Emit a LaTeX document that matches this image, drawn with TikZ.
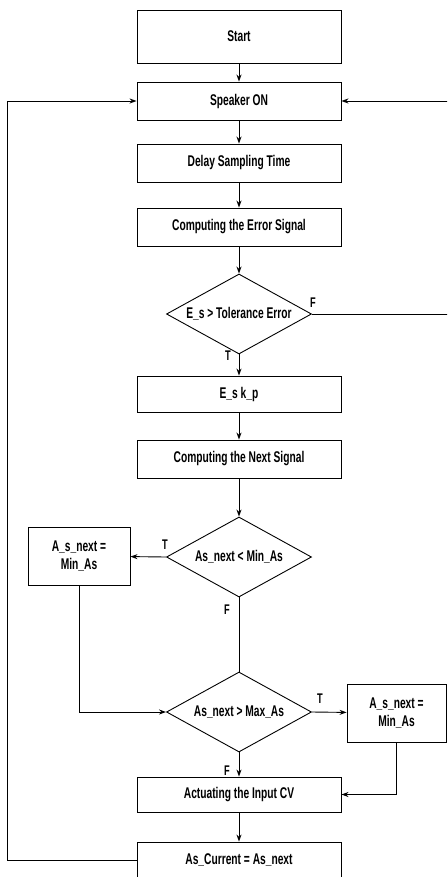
\documentclass[tikz,border=0pt]{standalone}
\usepackage{fontspec}
\setmainfont[FakeStretch=0.66,BoldFont={Liberation Sans Bold}]{Liberation Sans}
\usetikzlibrary{shapes.geometric,arrows.meta}
\begin{document}
\begin{tikzpicture}[x=1pt,y=-1pt,
  box/.style={draw,line width=0.9pt,rectangle,inner sep=0pt,align=center,font=\fontsize{15.5}{18}\selectfont\bfseries},
  dec/.style={draw,line width=0.9pt,diamond,aspect=1.8125,minimum width=145pt,minimum height=80pt,inner sep=0pt,font=\fontsize{15.5}{18}\selectfont\bfseries},
  lab/.style={font=\fontsize{14}{16}\selectfont\bfseries,inner sep=0pt},
  arr/.style={line width=0.9pt,-{Stealth[length=7pt,width=5pt]}},
  ln/.style={line width=0.9pt}]
\useasboundingbox (0,0) rectangle (447,877);
\clip (0,0) rectangle (447,877);
\def\bw{204pt}
\node[box,minimum width=\bw,minimum height=53pt] (start) at (239,36.5) {Start};
\node[box,minimum width=\bw,minimum height=38pt] (spk) at (239,101) {Speaker ON};
\node[box,minimum width=\bw,minimum height=38pt] (delay) at (239,163) {Delay Sampling Time};
\node[box,minimum width=\bw,minimum height=38pt] (err) at (239,227) {Computing the Error Signal};
\node[dec] (d1) at (239,314) {E\_s > Tolerance Error};
\node[box,minimum width=\bw,minimum height=36pt] (esk) at (239,394) {E\_s k\_p};
\node[box,minimum width=\bw,minimum height=38pt] (next) at (239,459) {Computing the Next Signal};
\node[dec] (d2) at (239,557) {As\_next < Min\_As};
\node[box,minimum width=102pt,minimum height=58pt] (lmin) at (79,556) {A\_s\_next =\\Min\_As};
\node[dec] (d3) at (239,712) {As\_next > Max\_As};
\node[box,minimum width=99pt,minimum height=58pt] (rmin) at (396.5,713) {A\_s\_next =\\Min\_As};
\node[box,minimum width=\bw,minimum height=35pt] (act) at (239,794.5) {Actuating the Input CV};
\node[box,minimum width=\bw,minimum height=36pt] (cur) at (239,860) {As\_Current = As\_next};
\coordinate (rtop) at (450,101);
\coordinate (rbot) at (450,314);
\coordinate (ltop) at (7,101);
\coordinate (lbot) at (7,860);
\draw[arr] (start) -- (spk);
\draw[arr] (spk) -- (delay);
\draw[arr] (delay) -- (err);
\draw[arr] (err) -- (d1);
\draw[arr] (d1) -- (esk);
\draw[arr] (esk) -- (next);
\draw[arr] (next) -- (d2);
\draw[arr] (d2.west) -- (lmin);
\draw[arr] (lmin.south) |- (d3.west);
\draw[ln] (d2.south) -- (d3.north);
\draw[arr] (d3.east) -- (rmin);
\draw[arr] (d3) -- (act);
\draw[arr] (rmin.south) |- (act.east);
\draw[arr] (act) -- (cur);
\draw[arr] (cur.west) -- (lbot) -- (ltop) -- (spk.west);
\draw[arr] (d1.east) -- (rbot) -- (rtop) -- (spk.east);
\node[lab] at (313,303) {F};
\node[lab] at (228,356) {T};
\node[lab] at (165,545) {T};
\node[lab] at (227,610) {F};
\node[lab] at (320,699) {T};
\node[lab] at (227,771) {F};
\end{tikzpicture}
\end{document}
